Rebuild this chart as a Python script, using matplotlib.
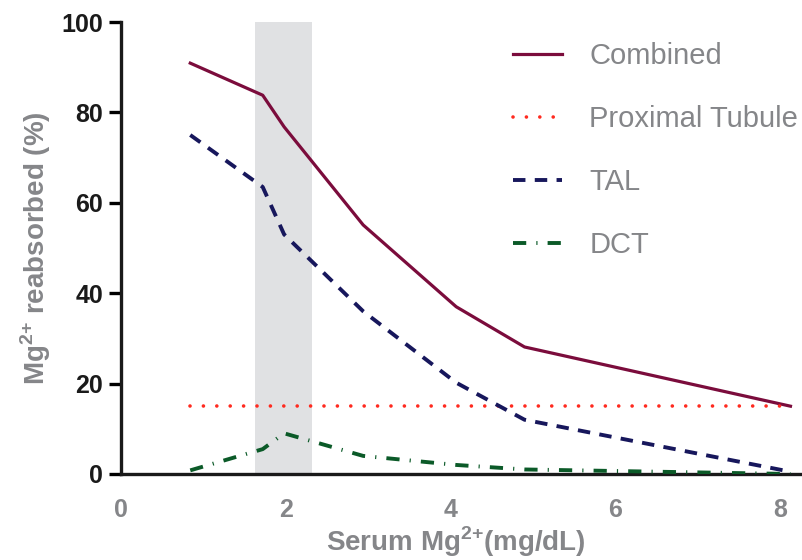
import matplotlib
matplotlib.use("Agg")
import matplotlib.pyplot as plt

# serum Mg (mg/dL) at the points where the curves bend
serum_mg = [0.84, 1.72, 1.98, 2.94, 4.07, 4.9, 8.13]
combined = [90.9, 83.8, 76.8, 55.1, 37.0, 28.1, 15.0]
tal = [75.0, 63.5, 53.0, 36.0, 20.2, 12.0, 0.5]
dct = [0.8, 5.5, 9.0, 4.0, 2.0, 1.0, 0.0]
proximal = [15.0, 15.0, 15.0, 15.0, 15.0, 15.0, 15.0]
normal_range = (1.63, 2.32)

x_ticks = [0, 2, 4, 6, 8]
y_ticks = [0, 20, 40, 60, 80, 100]

gray_txt = "#858689"
plt.rcParams['font.family'] = ['Liberation Sans', 'DejaVu Sans']
plt.rcParams['mathtext.fontset'] = 'custom'
plt.rcParams['mathtext.rm'] = 'Liberation Sans'
plt.rcParams['mathtext.bf'] = 'Liberation Sans:bold'

fig = plt.figure(figsize=(8.02, 5.6), dpi=100)
ax = fig.add_axes([0.151, 0.1536, 0.849, 0.8071])

ax.axvspan(normal_range[0], normal_range[1], color="#e0e1e3", lw=0, zorder=0)

ax.plot(serum_mg, combined, color="#7b0c3c", lw=2.3, label="Combined", zorder=3)
ax.plot(serum_mg, proximal, color="#ff2a1f", lw=2.6, linestyle=(0, (0.01, 3.7)),
        dash_capstyle="round", label="Proximal Tubule", zorder=3)
ax.plot(serum_mg, tal, color="#17175c", lw=2.8, linestyle=(0, (3.2, 2.4)), label="TAL", zorder=3)
ax.plot(serum_mg, dct, color="#0b5a28", lw=2.8, linestyle=(0, (3.4, 2.6, 0.3, 2.6)),
        label="DCT", zorder=3)

ax.set_xlim(0, 8.27)
ax.set_ylim(0, 100)
ax.set_xticks(x_ticks)
ax.set_yticks(y_ticks)
ax.tick_params(axis="x", length=0, pad=17, labelsize=18, labelcolor=gray_txt)
ax.tick_params(axis="y", length=9, width=2.4, pad=4, labelsize=18, labelcolor="#1a1a1a")
for lab in ax.get_xticklabels() + ax.get_yticklabels():
    lab.set_fontweight("bold")

for s in ["top", "right"]:
    ax.spines[s].set_visible(False)
for s in ["left", "bottom"]:
    ax.spines[s].set_linewidth(2.4)
    ax.spines[s].set_color("#1a1a1a")

ax.set_xlabel(r"Serum Mg$^{\mathbf{2{+}}}$(mg/dL)", fontsize=20, fontweight="bold",
              color=gray_txt)
ax.set_ylabel(r"Mg$^{\mathbf{2{+}}}$ reabsorbed (%)", fontsize=20, fontweight="bold",
              color=gray_txt)
ax.xaxis.set_label_coords(0.492, -0.112)
ax.yaxis.set_label_coords(-0.1, 0.5)

leg = ax.legend(loc="upper left", bbox_to_anchor=(0.558, 0.982), frameon=False, fontsize=21,
                handlelength=1.7, handletextpad=0.93, labelspacing=1.2, borderaxespad=0)
for t in leg.get_texts():
    t.set_color(gray_txt)

fig.savefig("out.png", dpi=100)
